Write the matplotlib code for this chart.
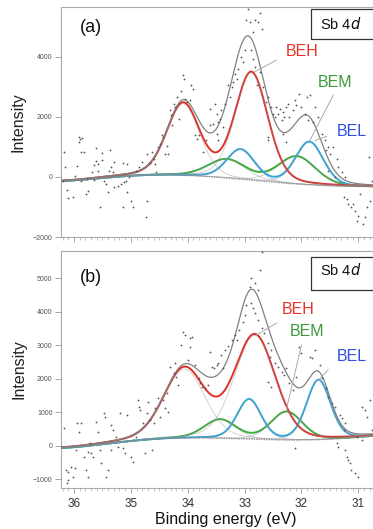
import numpy as np
import matplotlib
matplotlib.use('Agg')
import matplotlib.pyplot as plt
from matplotlib.patches import Rectangle
from matplotlib.ticker import MultipleLocator

plt.rcParams['font.family'] = ['Liberation Sans', 'DejaVu Sans']

# ---------------- data ----------------
components = ['BEH', 'BEM', 'BEL']
comp_colors = ['#e0302a', '#3aae3a', '#2fa8e0']
text_colors = ['#e8322a', '#3a9a3a', '#2f4fe0']
eta = 0.2  # Gauss-Lorentz mixing

# panel (a) fit: 4d5/2 position, spin-orbit split, heights, FWHM
a_pos52 = [32.88, 32.08, 31.86]
a_split = [1.20, 1.23, 1.21]
a_h52 = [3580, 920, 1430]
a_h32 = [2380, 620, 990]
a_fwhm = [0.68, 0.78, 0.58]
a_bg_E = [36.23, 35.5, 34.85, 34.2, 33.8, 33.47, 32.8, 32.07, 31.4, 30.74, 30.44]
a_bg_I = [-143, -40, 47, 65, 25, -10, -130, -233, -300, -333, -340]

# panel (b) fit
b_pos52 = [32.82, 32.26, 31.70]
b_split = [1.24, 1.17, 1.22]
b_h52 = [3100, 845, 1780]
b_h32 = [2060, 557, 1184]
b_fwhm = [0.85, 0.66, 0.50]
b_bg_E = [36.23, 35.5, 34.82, 34.2, 33.5, 32.9, 32.35, 31.8, 31.44, 31.0, 30.74, 30.44]
b_bg_I = [-70, 40, 170, 215, 230, 200, 170, 170, 200, 250, 290, 320]

# measured points (a)
a_pts_E = [36.17, 36.15, 36.20, 36.13, 36.10, 36.02, 35.99, 35.95, 35.92, 35.89, 35.86, 35.91,
           35.88, 35.82, 35.88, 35.77, 35.76, 35.79, 35.68, 35.65, 35.64, 35.61, 35.58, 35.61,
           35.58, 35.54, 35.51, 35.50, 35.47, 35.44, 35.41, 35.38, 35.36, 35.35, 35.32, 35.29,
           35.29, 35.23, 35.17, 35.14, 35.14, 35.12, 35.09, 35.06, 35.06, 35.03, 35.00, 34.97,
           34.91, 34.85,
           34.81, 34.72, 34.63, 34.66, 34.57, 34.71, 34.73, 34.60, 34.55, 34.52, 34.49, 34.46,
           34.43, 34.40, 34.37, 34.34, 34.32, 34.30, 34.28, 34.25, 34.22, 34.19, 34.15, 34.12,
           34.09, 34.06, 34.05, 34.02, 33.96, 33.95, 33.91, 33.87, 33.84, 33.81, 33.74, 33.67,
           33.61, 33.60, 33.55, 33.52, 33.49, 33.46, 33.48,
           32.94, 32.97, 32.91, 32.82, 32.76, 32.73, 32.85, 32.70, 33.00, 33.06, 33.03, 33.12,
           33.17, 33.14, 33.20, 33.29, 33.23, 33.26, 33.35, 33.41, 33.44, 33.38, 33.47, 32.88,
           32.85, 32.82, 32.79, 32.73, 32.68, 32.62, 32.59, 32.59, 32.53, 32.50, 32.47, 32.44,
           32.41, 32.38, 32.35, 32.32, 32.30, 32.27, 32.24, 32.21, 32.15, 32.09, 32.59, 32.32,
           32.27,
           31.91, 31.85, 32.00, 31.94, 31.88, 31.79, 31.76, 31.70, 31.64, 31.59, 31.56, 31.53,
           31.50, 31.44, 31.38, 31.35, 31.29, 31.23, 31.26, 31.20, 31.18, 31.12, 31.09, 31.06,
           31.03, 31.00, 30.91, 30.88, 30.85, 30.82, 30.79, 30.76, 30.97, 31.53, 31.41, 32.11,
           32.05]
a_pts_I = [824, 346, -120, -431, -698, -653, 46, 380, 1324, 1246, 1290, 1168,
           846, 824, -120, -65, -453, -564, 180, -98, 413, 546, 435, 957,
           191, -1009, 802, 568, -142, -231, -509, 191, 902, 346, 180, 491,
           -342, -287, -231, 457, -987, -176, -120, 435, -509, -9, -787, -987,
           213, 346,
           491, 768, 824, 457, 435, -787, -1342, 602, 157, 991, 1102, 1380,
           1324, 768, 1046, 768, 2213, 2046, 1713, 2435, 2324, 2657, 1935, 2857,
           3379, 3268, 2602, 2491, 2546, 3046, 2935, 1380, 1268, 1380, 824, 1213,
           1713, 2268, 1768, 2435, 1435, 1824, 2102,
           5601, 5213, 5157, 5213, 5157, 5457, 4824, 4935, 4213, 3990, 3824, 3602,
           3435, 3268, 3157, 3046, 2990, 2657, 2435, 2213, 1935, 1657, 1213, 4213,
           3935, 3657, 3046, 3490, 2990, 2491, 2657, 1324, 2324, 2102, 1990, 2324,
           2102, 2268, 1880, 2157, 1990, 2324, 2435, 1990, 2213, 2380, 1213, 1435,
           1157,
           2657, 2713, 2324, 2102, 1880, 1824, 2324, 1990, 1435, 1213, 880, 991,
           768, 991, 602, 324, 157, -9, -676, -731, -898, -1009, -898, -1120,
           -1453, -1287, -1564, -1342, -1009, 657, -787, -120, -564, 213, -9, 2546,
           2768]

# measured points (b)
b_pts_E = [36.18, 36.14, 36.11, 36.10, 36.05, 35.99, 36.01, 36.12, 35.96, 35.94, 35.88, 35.91,
           35.82, 35.79, 35.76, 35.76, 35.70, 35.67, 35.71, 35.61, 35.58, 35.55, 35.53, 35.48,
           35.46, 35.44, 35.41, 35.35, 35.35, 35.32, 35.26, 35.23, 35.19, 35.14, 35.11, 35.06,
           35.00, 34.97, 34.88, 34.85, 34.91,
           34.84, 34.78, 34.72, 34.69, 34.66, 34.60, 34.57, 34.52, 34.49, 34.43, 34.40, 34.37,
           34.34, 34.31, 34.25, 34.22, 34.20, 34.17, 34.11, 34.08, 34.05, 33.96, 33.93, 33.96,
           33.99, 33.87, 33.81, 33.78, 33.75, 33.70, 33.64, 33.61, 33.58, 33.54, 33.49, 34.75,
           34.63,
           32.70, 32.73, 32.88, 32.82, 32.91, 32.76, 32.97, 33.00, 33.03, 33.09, 33.17, 33.23,
           33.14, 33.29, 33.35, 33.41, 33.47, 33.38, 32.88, 32.85, 32.82, 32.76, 32.70, 32.65,
           32.59, 32.56, 32.53, 32.47, 32.41, 32.35, 32.30, 32.27, 32.21, 32.15, 32.09, 32.59,
           32.53, 32.12,
           32.05, 32.00, 31.85, 31.82, 31.76, 31.67, 31.64, 31.56, 31.53, 31.47, 31.41, 31.32,
           31.29, 31.26, 31.23, 31.20, 31.18, 31.15, 31.12, 31.06, 31.00, 30.94, 30.88, 30.85,
           30.79, 30.76, 31.23, 31.03, 30.94, 31.38, 31.35]
b_pts_I = [519, -725, -775, -1024, -626, -675, -924, -1123, -128, 688, 668, 419,
           -327, -725, -924, -178, -227, -327, 71, 718, 419, -128, -526, 986,
           867, -924, -725, 618, -128, 469, 270, -29, 966, -78, -227, 917,
           -327, -476, 1365, 1166, 270,
           1066, 668, 966, 1315, 767, 668, 1116, 1414, 867, 1365, 1116, 1564,
           1016, 2360, 2161, 2459, 2061, 1812, 3006, 3404, 3305, 3205, 3255, 2957,
           2559, 2409, 2011, 1862, 1762, 1713, 1812, 2807, 2360, 2310, 2409, -227,
           -128,
           5792, 5245, 4996, 4847, 4747, 4648, 4200, 3902, 3703, 3454, 3305, 3155,
           3155, 2986, 2857, 2708, 2459, 2310, 4250, 4101, 3951, 3753, 3504, 3355,
           3056, 2658, 2857, 2459, 2360, 2210, 2111, 2310, 1862, 1663, 2061, 1912,
           1762, -78,
           2956, 2758, 2658, 2608, 2857, 2409, 2011, 1713, 1464, 1265, 1166, 917,
           817, 469, -128, -327, -426, -526, -725, -825, -924, 1166, 1066, 867,
           1365, 469, 668, 270, 171, 71, -29]

x_ticks = [36, 35, 34, 33, 32, 31]
a_yticks = [-2000, 0, 2000, 4000]
b_yticks = [-1000, 0, 1000, 2000, 3000, 4000, 5000]

# ---------------- helpers ----------------
def pv(E, c, h, w):
    x = E - c
    g = np.exp(-4 * np.log(2) * x**2 / w**2)
    l = 1.0 / (1 + 4 * x**2 / w**2)
    return h * ((1 - eta) * g + eta * l)


E = np.linspace(36.35, 30.35, 900)

fig = plt.figure(figsize=(3.73, 5.29), dpi=100)
W, H = 373.0, 529.0
left_px, right_px = 61, 390


def make_ax(top_px, bot_px):
    return fig.add_axes([left_px / W, 1 - bot_px / H, (right_px - left_px) / W, (bot_px - top_px) / H])


def draw_panel(ax, pos52, split, h52, h32, fwhm, bgE, bgI, pE, pI, ylim, yticks,
               label, ann, show_xlabels):
    bg = np.polyval(np.polyfit(bgE, bgI, 5), E)
    comps = []
    singles = []
    for i in range(3):
        p1 = pv(E, pos52[i], h52[i], fwhm[i])
        p2 = pv(E, pos52[i] + split[i], h32[i], fwhm[i])
        comps.append(p1 + p2)
        singles += [p1, p2]
    env = bg + sum(comps)
    ax.plot(E, bg, color='#9a9a9a', lw=1.0, ls=(0, (1, 0.8)), zorder=2.5)
    for i in [1, 2, 0]:
        ax.plot(E, bg + comps[i], color=comp_colors[i], lw=1.4, zorder=3)
    for s in singles:
        ax.plot(E, bg + s, color='#8c8c8c', lw=0.6, alpha=0.45, zorder=3.5)
    ax.plot(E, env, color='#808080', lw=0.9, zorder=4)
    ax.plot(pE, pI, ls='none', marker='o', ms=1.3, mec='none', mfc='#555555', zorder=5)

    ax.set_xlim(36 + 13 / 56.86, 36 - (right_px - 74) / 56.86)
    ax.set_ylim(*ylim)
    ax.set_yticks(yticks)
    ax.set_xticks(x_ticks)
    ax.xaxis.set_minor_locator(MultipleLocator(0.1))
    ax.tick_params(axis='y', direction='out', length=4, width=0.6, color='#999999',
                   labelsize=5, labelcolor='#555555', pad=2)
    ax.tick_params(axis='x', which='major', direction='out', length=3.5, width=0.6,
                   color='#999999', labelsize=8.5, labelcolor='#333333', pad=4)
    ax.tick_params(axis='x', which='minor', direction='out', length=2, width=0.5, color='#aaaaaa')
    if not show_xlabels:
        ax.tick_params(axis='x', labelbottom=False)
    for sp in ['left', 'bottom', 'top']:
        ax.spines[sp].set_color('#aaaaaa')
        ax.spines[sp].set_linewidth(0.8)
    ax.spines['right'].set_visible(False)
    ax.set_ylabel('Intensity', fontsize=11.5, color='#222222', labelpad=5)

    ax.text(0.09, label[1], label[0], transform=ax.transAxes, fontsize=13,
            ha='center', va='center', color='#111111')
    ax.add_patch(Rectangle((0.76, label[2]), 0.4, label[3], transform=ax.transAxes,
                           fill=True, fc='white', ec='#333333', lw=0.9, zorder=6, clip_on=False))
    ax.text(0.787, label[4], 'Sb 4$\\mathit{d}$', transform=ax.transAxes, fontsize=10.5,
            ha='left', va='center', color='#111111', zorder=7)
    for i in range(3):
        (tx, ty), (sx, sy), (ex, ey) = ann[i]
        ax.text(tx, ty, components[i], fontsize=11.5, color=text_colors[i],
                ha='center', va='center', zorder=7)
        ax.plot([sx, ex], [sy, ey], color='#aaaaaa', lw=0.7, zorder=6)


ax_a = make_ax(7, 237)
ax_b = make_ax(251, 488)

ann_a = [((31.98, 4190), (32.44, 3890), (32.82, 3500)),
         ((31.41, 3157), (31.44, 2723), (31.85, 1223)),
         ((31.12, 1523), (31.56, 1347), (31.76, 1213))]
ann_b = [((32.06, 4051), (32.44, 3654), (32.79, 3304)),
         ((31.90, 3394), (32.00, 3004), (32.26, 1116)),
         ((31.12, 2648), (31.53, 2260), (31.70, 1961))]

draw_panel(ax_a, a_pos52, a_split, a_h52, a_h32, a_fwhm, a_bg_E, a_bg_I, a_pts_E, a_pts_I,
           (-2000, 5657), a_yticks, ('(a)', 0.909, 0.861, 0.13, 0.924), ann_a, False)
draw_panel(ax_b, b_pos52, b_split, b_h52, b_h32, b_fwhm, b_bg_E, b_bg_I, b_pts_E, b_pts_I,
           (-1263, 5812), b_yticks, ('(b)', 0.888, 0.835, 0.139, 0.92), ann_b, True)
ax_b.set_xlabel('Binding energy (eV)', fontsize=11.5, color='#111111', labelpad=1)

fig.savefig('out.png', dpi=100)
